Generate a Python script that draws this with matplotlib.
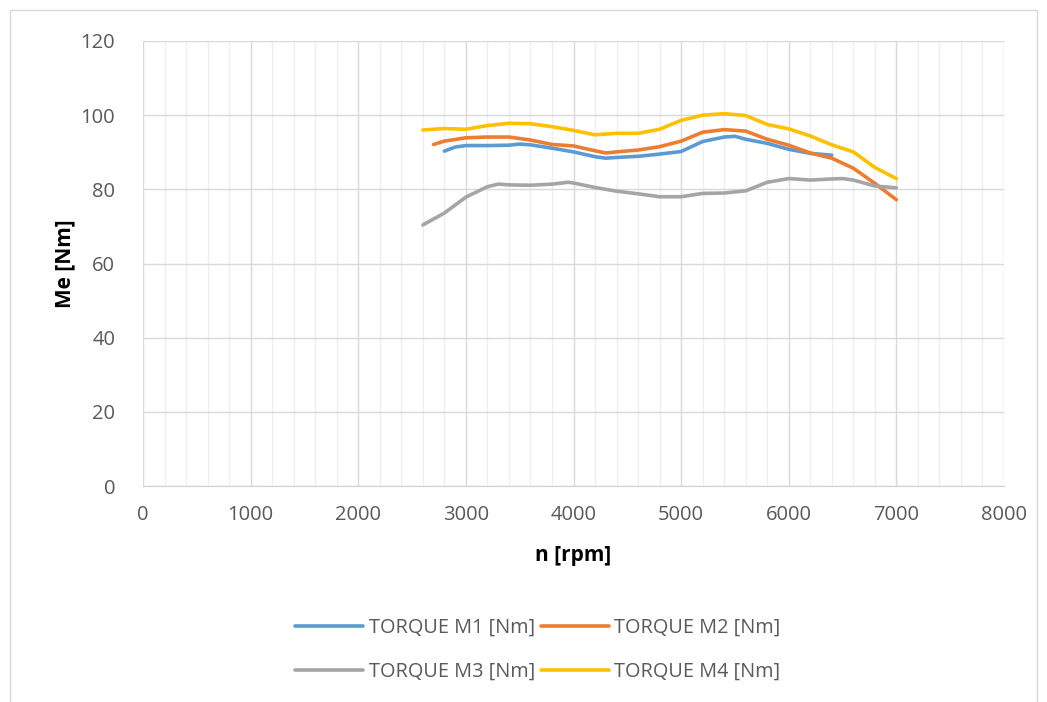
import matplotlib.pyplot as plt
from matplotlib.patches import Rectangle
from matplotlib.ticker import MultipleLocator

# data (rpm, Nm)
rpm_m1 = [2800, 2900, 3000, 3200, 3400, 3500, 3600, 3800, 4000, 4200, 4300, 4400,
          4600, 4800, 5000, 5200, 5400, 5500, 5600, 5800, 6000, 6200, 6400]
torque_m1 = [90.3, 91.4, 91.8, 91.8, 91.9, 92.2, 92.0, 91.1, 90.1, 88.8, 88.4, 88.6,
             88.9, 89.5, 90.2, 92.9, 94.1, 94.3, 93.5, 92.4, 90.8, 89.7, 89.2]

rpm_m2 = [2700, 2800, 3000, 3200, 3400, 3600, 3800, 4000, 4200, 4300, 4400, 4600,
          4800, 5000, 5200, 5400, 5600, 5800, 6000, 6200, 6400, 6600, 6800, 7000]
torque_m2 = [92.1, 93.0, 93.9, 94.1, 94.1, 93.3, 92.1, 91.7, 90.4, 89.8, 90.1, 90.6,
             91.5, 93.0, 95.4, 96.1, 95.7, 93.5, 91.9, 89.8, 88.4, 85.7, 81.6, 77.2]

rpm_m3 = [2600, 2800, 3000, 3200, 3300, 3400, 3600, 3800, 3950, 4000, 4200, 4400,
          4600, 4800, 5000, 5200, 5400, 5600, 5800, 6000, 6200, 6400, 6500, 6600,
          6800, 7000]
torque_m3 = [70.4, 73.6, 77.9, 80.7, 81.4, 81.2, 81.1, 81.4, 81.9, 81.7, 80.5, 79.5,
             78.8, 78.0, 78.0, 78.9, 79.0, 79.6, 81.9, 82.9, 82.5, 82.8, 82.9, 82.5,
             80.9, 80.4]

rpm_m4 = [2600, 2800, 3000, 3200, 3400, 3600, 3800, 4000, 4200, 4400, 4600, 4800,
          5000, 5200, 5400, 5600, 5800, 6000, 6200, 6400, 6600, 6800, 7000]
torque_m4 = [96.0, 96.4, 96.2, 97.2, 97.8, 97.7, 96.9, 95.9, 94.7, 95.1, 95.1, 96.2,
             98.6, 100.0, 100.4, 99.9, 97.5, 96.3, 94.4, 92.0, 90.1, 85.9, 82.9]

labels = ['TORQUE M1 [Nm]', 'TORQUE M2 [Nm]', 'TORQUE M3 [Nm]', 'TORQUE M4 [Nm]']
colors = ['#5B9BD5', '#ED7D31', '#A5A5A5', '#FFC000']

plt.rcParams['font.family'] = ['Open Sans', 'DejaVu Sans']

W, H = 1047, 702
fig = plt.figure(figsize=(W / 100, H / 100), dpi=100)
ax = fig.add_axes([143 / W, 1 - 486 / H, (1004 - 143) / W, (486 - 41) / H])

# chart border
fig.patches.append(Rectangle((10 / W, -0.01), (1037 - 10) / W, 1 - 10 / H + 0.01,
                             transform=fig.transFigure, fill=False,
                             edgecolor='#d9d9d9', linewidth=1))

series = [(rpm_m1, torque_m1), (rpm_m2, torque_m2), (rpm_m3, torque_m3), (rpm_m4, torque_m4)]
lines = []
for (x, y), lab, c in zip(series, labels, colors):
    ln, = ax.plot(x, y, color=c, linewidth=2.6, label=lab,
                  solid_joinstyle='round', solid_capstyle='round')
    lines.append(ln)

ax.set_xlim(0, 8000)
ax.set_ylim(0, 120)
ax.xaxis.set_major_locator(MultipleLocator(1000))
ax.xaxis.set_minor_locator(MultipleLocator(200))
ax.yaxis.set_major_locator(MultipleLocator(20))
ax.grid(True, which='major', color='#d9d9d9', linewidth=1)
ax.grid(True, which='minor', axis='x', color='#efefef', linewidth=1)
ax.set_axisbelow(True)

for s in ['top', 'right', 'left']:
    ax.spines[s].set_visible(False)
ax.spines['bottom'].set_color('#d0d0d0')
ax.tick_params(which='both', length=0, labelsize=14.5, colors='#595959')
ax.tick_params(axis='y', pad=20)
ax.tick_params(axis='x', pad=14)

ax.set_xlabel('n [rpm]', fontsize=15, fontweight='bold', labelpad=14)
ax.set_ylabel('Me [Nm]', fontsize=15, fontweight='bold', labelpad=4)

# excel fills the legend row by row; matplotlib goes column by column
order = [0, 2, 1, 3]
fig.legend([lines[i] for i in order], [labels[i] for i in order], loc='center',
           bbox_to_anchor=(538 / W, 1 - 650 / H),
           ncol=2, frameon=False, fontsize=14.3, handlelength=3.4,
           handletextpad=0.3, columnspacing=0.3, labelspacing=1.2,
           labelcolor='#595959')

fig.savefig('out.png', dpi=100)
